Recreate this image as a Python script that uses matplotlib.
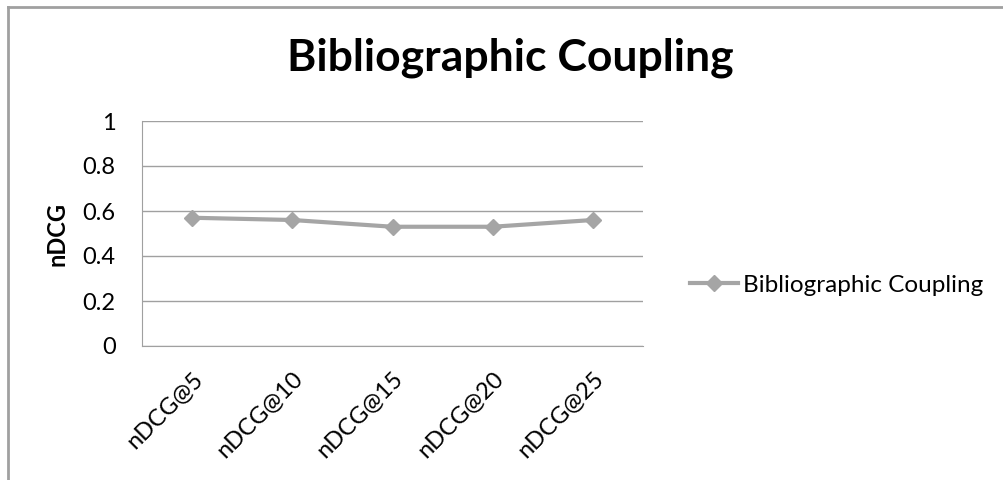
import matplotlib.pyplot as plt
from matplotlib.lines import Line2D

plt.rcParams['font.family'] = ['Lato', 'DejaVu Sans']

categories = ['nDCG@5', 'nDCG@10', 'nDCG@15', 'nDCG@20', 'nDCG@25']
ndcg = [0.57, 0.56, 0.53, 0.53, 0.56]
series_name = 'Bibliographic Coupling'

fig = plt.figure(figsize=(10.04, 4.8), dpi=100)
ax = fig.add_axes([142 / 1004, 1 - 346 / 480, 501 / 1004, 225 / 480])

x = list(range(len(categories)))
ax.plot(x, ndcg, color='#A5A5A5', linewidth=3, marker='D', markersize=8,
        label=series_name)

ax.set_xlim(-0.5, len(categories) - 0.5)
ax.set_ylim(0, 1)
ax.set_yticks([0, 0.2, 0.4, 0.6, 0.8, 1])
ax.set_yticklabels(['0', '0.2', '0.4', '0.6', '0.8', '1'])
ax.set_xticks(x)
ax.set_xticklabels(categories, rotation=45, ha='right', va='top',
                   rotation_mode='anchor')
ax.tick_params(axis='both', length=0, labelsize=17)
ax.tick_params(axis='y', pad=19)
ax.tick_params(axis='x', pad=16)
ax.yaxis.grid(True, color='#A0A0A0', linewidth=1)
ax.set_axisbelow(True)
for side in ['top', 'right']:
    ax.spines[side].set_visible(False)
ax.spines['left'].set_color('#A0A0A0')
ax.spines['bottom'].set_color('#A0A0A0')

ax.set_ylabel('nDCG', fontsize=17, fontweight='bold', labelpad=10)

fig.text(0.5 + 8 / 1004, 1 - 58 / 480, 'Bibliographic Coupling', ha='center',
         va='center', fontsize=32, fontweight='bold')

ax.legend(loc='center left', bbox_to_anchor=(668 / 1004, 1 - 285 / 480),
          bbox_transform=fig.transFigure, frameon=False, fontsize=17.5,
          handlelength=2.0, handletextpad=0.2)

# outer chart border (only left and top visible)
fig.add_artist(Line2D([8 / 1004, 8 / 1004], [0, 1 - 7 / 480],
                      transform=fig.transFigure, color='#A0A0A0', linewidth=2))
fig.add_artist(Line2D([8 / 1004, 1], [1 - 7 / 480, 1 - 7 / 480],
                      transform=fig.transFigure, color='#A0A0A0', linewidth=2))

fig.savefig('out.png', dpi=100, facecolor='white')
